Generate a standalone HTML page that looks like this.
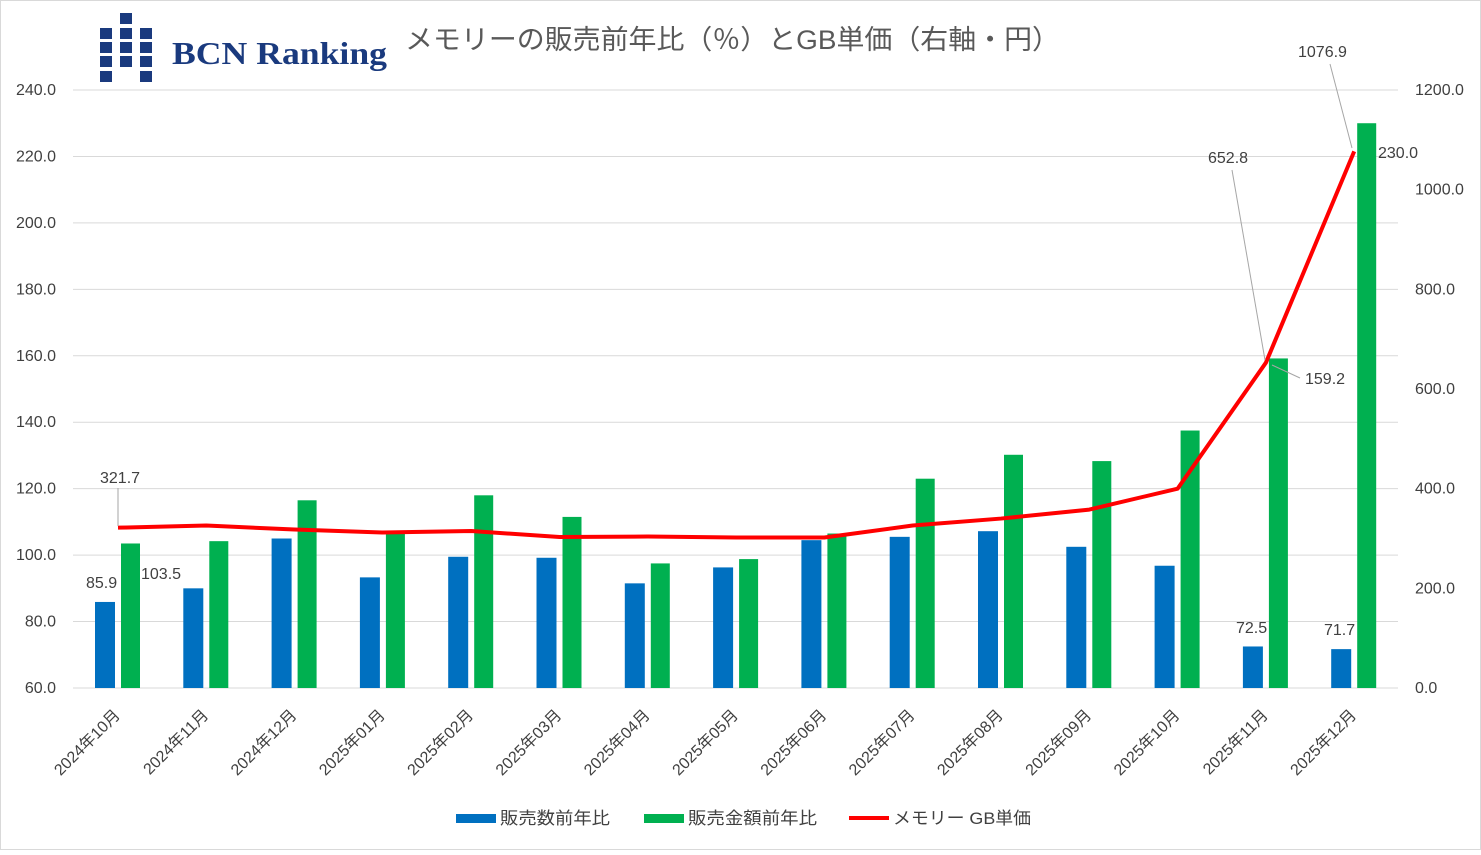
<!DOCTYPE html>
<html><head><meta charset="utf-8"><style>
body{margin:0;background:#fff}
text{font-family:"Liberation Sans","Noto Sans CJK JP",sans-serif}
</style></head><body>
<svg width="1481" height="850" xmlns="http://www.w3.org/2000/svg">
<rect x="0.5" y="0.5" width="1480" height="849" fill="#fff" stroke="#d9d9d9"/>
<g fill="#1a3a7e">
<rect x="120" y="13" width="12" height="11"/>
<rect x="100" y="28" width="12" height="11"/><rect x="120" y="28" width="12" height="11"/><rect x="140" y="28" width="12" height="11"/>
<rect x="100" y="42" width="12" height="11"/><rect x="120" y="42" width="12" height="11"/><rect x="140" y="42" width="12" height="11"/>
<rect x="100" y="56" width="12" height="11"/><rect x="120" y="56" width="12" height="11"/><rect x="140" y="56" width="12" height="11"/>
<rect x="100" y="71" width="12" height="11"/><rect x="140" y="71" width="12" height="11"/>
</g>
<text x="172" y="64" style="font-family:'Liberation Serif',serif;font-weight:bold" font-size="32" fill="#1a3a7e" textLength="215" lengthAdjust="spacingAndGlyphs">BCN Ranking</text>
<text x="405" y="49" font-size="27" fill="#595959" textLength="655" lengthAdjust="spacingAndGlyphs">メモリーの販売前年比（％）とGB単価（右軸・円）</text>
<g stroke="#d9d9d9" stroke-width="1" id="grid"></g>
<g id="ax" font-size="16" fill="#404040"></g>
<g id="bars"></g>
<polyline id="line" fill="none" stroke="#ff0000" stroke-width="4" stroke-linejoin="round"/>
<g font-size="16" fill="#404040" id="lbl">
<text x="86" y="588">85.9</text>
<text x="141" y="579">103.5</text>
<text x="100" y="483">321.7</text>
<line x1="118" y1="488" x2="118" y2="526" stroke="#a6a6a6"/>
<text x="1236" y="633">72.5</text>
<text x="1324" y="635">71.7</text>
<text x="1208" y="163">652.8</text>
<line x1="1232" y1="170" x2="1265" y2="360" stroke="#a6a6a6"/>
<text x="1305" y="384">159.2</text>
<line x1="1272" y1="365" x2="1300" y2="378" stroke="#a6a6a6"/>
<text x="1298" y="57">1076.9</text>
<line x1="1330" y1="64" x2="1352" y2="148" stroke="#a6a6a6"/>
<text x="1378" y="158">230.0</text>
</g>
<g font-size="17" fill="#404040">
<rect x="456" y="814" width="40" height="9" fill="#0070c0"/><text x="500" y="824" textLength="110" lengthAdjust="spacingAndGlyphs">販売数前年比</text>
<rect x="644" y="814" width="40" height="9" fill="#00b050"/><text x="688" y="824" textLength="129" lengthAdjust="spacingAndGlyphs">販売金額前年比</text>
<rect x="849" y="816" width="40" height="4" fill="#ff0000"/><text x="893" y="824" textLength="138" lengthAdjust="spacingAndGlyphs">メモリー GB単価</text>
</g>
</svg>
<script>
const ns="http://www.w3.org/2000/svg";
function el(p,t,a,txt){const e=document.createElementNS(ns,t);for(const k in a)e.setAttribute(k,a[k]);if(txt)e.textContent=txt;document.getElementById(p).appendChild(e);return e;}
const y0=688,y1=90;
const yl=v=>y0-(v-60)/180*(y0-y1);
const yr=v=>y0-v/1200*(y0-y1);
for(let v=60;v<=240;v+=20){const y=yl(v);el('grid','line',{x1:73,x2:1398,y1:y,y2:y});el('ax','text',{x:56,y:y+5,'text-anchor':'end'},v.toFixed(1));}
for(let v=0;v<=1200;v+=200){el('ax','text',{x:1415,y:yr(v)+5},v.toFixed(1));}
const cats=["2024年10月","2024年11月","2024年12月","2025年01月","2025年02月","2025年03月","2025年04月","2025年05月","2025年06月","2025年07月","2025年08月","2025年09月","2025年10月","2025年11月","2025年12月"];
const b=[85.9,90,105,93.3,99.5,99.2,91.5,96.3,104.5,105.5,107.2,102.5,96.8,72.5,71.7];
const g=[103.5,104.2,116.5,107,118,111.5,97.5,98.8,106.5,123,130.2,128.3,137.5,159.2,230];
const r=[321.7,326,318,312,315,303,304,302,302,326,340,358,400,652.8,1076.9];
let pts=[];
cats.forEach((c,i)=>{const cx=117+88.3*i;
el('bars','rect',{x:cx-22,y:yl(b[i]),width:20,height:y0-yl(b[i]),fill:'#0070c0'});
el('bars','rect',{x:cx+4,y:yl(g[i]),width:19,height:y0-yl(g[i]),fill:'#00b050'});
pts.push(cx+1+','+yr(r[i]));
el('ax','text',{x:cx+4,y:716,'text-anchor':'end',transform:`rotate(-45 ${cx+4} 716)`},c);
});
document.getElementById('line').setAttribute('points',pts.join(' '));
</script>
</body></html>
